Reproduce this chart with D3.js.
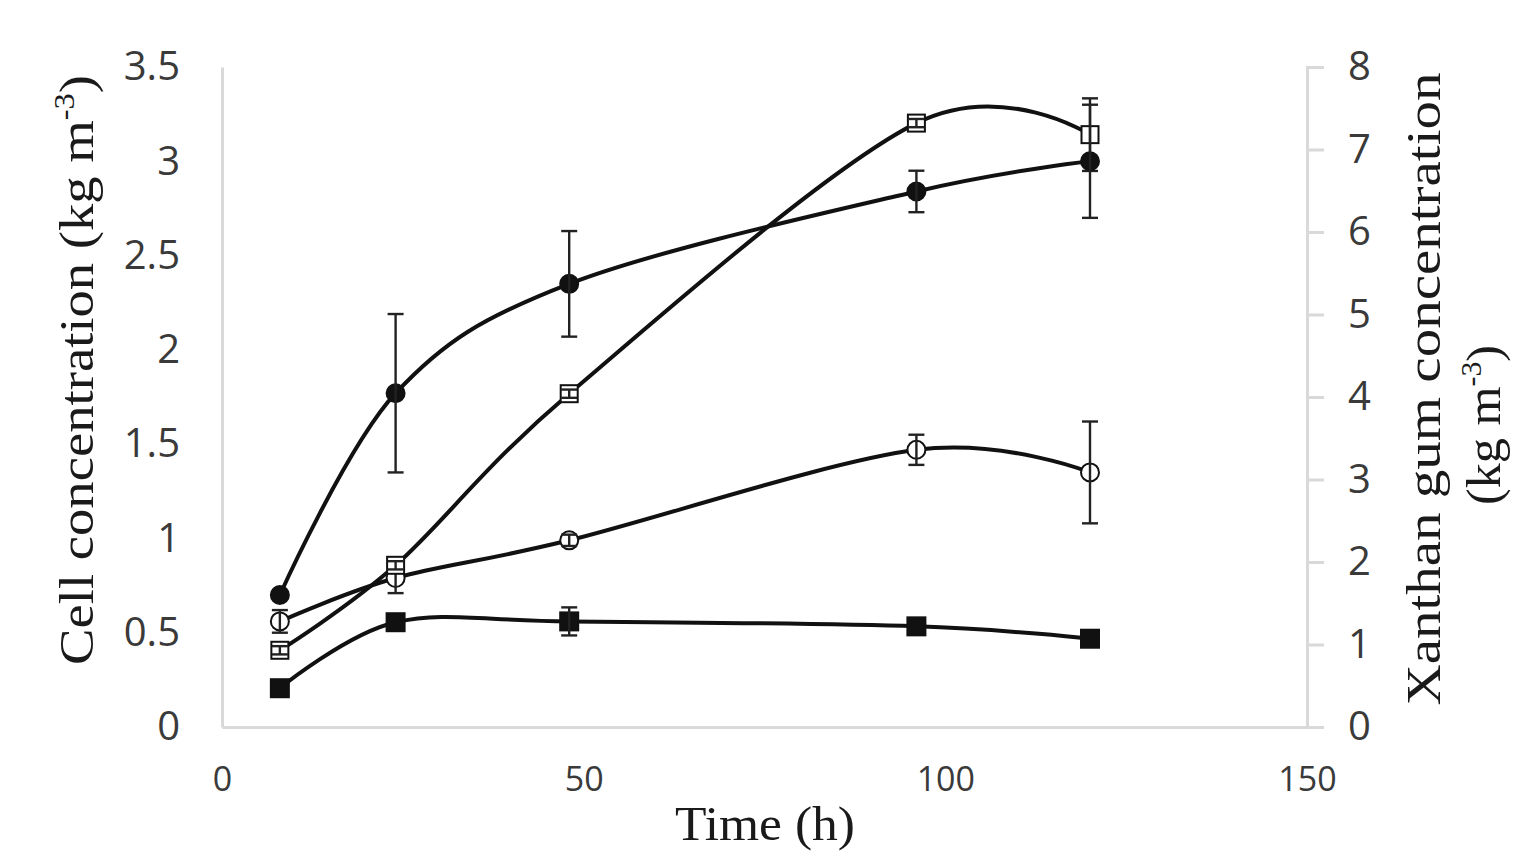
<!DOCTYPE html>
<html>
<head>
<meta charset="utf-8">
<script src="https://cdn.jsdelivr.net/npm/d3@7"></script>
<style>
  body { margin: 0; background: #fff; }
</style>
</head>
<body>
<div id="chart-area"></div>
<script>
// time points (h)
var times = [8, 24, 48, 96, 120];

// cell concentration (left axis)
var cellFilled = [0.70, 1.77, 2.35, 2.84, 3.00];
var cellFilledErr = [0, 0.42, 0.28, 0.11, 0.30];
var cellOpen = [0.56, 0.79, 0.99, 1.47, 1.35];
var cellOpenErr = [0.06, 0.08, 0.03, 0.08, 0.27];

// xanthan gum concentration (right axis)
var gumOpen = [0.93, 1.96, 4.04, 7.32, 7.18];
var gumOpenErr = [0.05, 0.05, 0.05, 0.05, 0.44];
var gumFilled = [0.47, 1.27, 1.28, 1.22, 1.07];
var gumFilledErr = [0, 0, 0.17, 0, 0];

var xTicks = [0, 50, 100, 150];
var yLeftTicks = [0, 0.5, 1, 1.5, 2, 2.5, 3, 3.5];
var yRightTicks = [0, 1, 2, 3, 4, 5, 6, 7, 8];

var width = 1533;
var height = 852;
var margin = { top: 67, right: 226, bottom: 125, left: 222 };
var chartWidth = width - margin.left - margin.right;
var chartHeight = height - margin.top - margin.bottom;

var svg = d3.select("#chart-area")
  .append("svg")
  .attr("width", width)
  .attr("height", height);

var g = svg.append("g")
  .attr("transform", "translate(" + margin.left + ", " + margin.top + ")");

var x = d3.scaleLinear().domain([0, 150]).range([0, chartWidth]);
var yLeft = d3.scaleLinear().domain([0, 3.5]).range([chartHeight, 0]);
var yRight = d3.scaleLinear().domain([0, 8]).range([chartHeight, 0]);

var axisColor = "#d9d9d9";
var tickText = "#3a3a3a";

// axes
var bottomAxis = d3.axisBottom(x).tickValues(xTicks).tickSize(0).tickPadding(40);
var gx = g.append("g")
  .attr("class", "x axis")
  .attr("transform", "translate(0, " + chartHeight + ")")
  .call(bottomAxis);
gx.select(".domain").attr("stroke", axisColor).attr("stroke-width", 3);
gx.selectAll("text")
  .attr("font-family", "Open Sans, sans-serif")
  .attr("font-size", "34px")
  .attr("fill", tickText);

var leftAxis = d3.axisLeft(yLeft).tickValues(yLeftTicks).tickSize(0).tickPadding(42)
  .tickFormat(d => String(d));
var gl = g.append("g")
  .attr("class", "y axis")
  .call(leftAxis);
gl.select(".domain").attr("stroke", axisColor).attr("stroke-width", 3);
gl.selectAll("text")
  .attr("font-family", "Open Sans, sans-serif")
  .attr("font-size", "40px")
  .attr("fill", tickText);

var rightAxis = d3.axisRight(yRight).tickValues(yRightTicks).tickSizeInner(17).tickSizeOuter(17).tickPadding(24);
var gr = g.append("g")
  .attr("class", "y axis right")
  .attr("transform", "translate(" + chartWidth + ", 0)")
  .call(rightAxis);
gr.select(".domain").attr("stroke", axisColor).attr("stroke-width", 3);
gr.selectAll("line").attr("stroke", axisColor).attr("stroke-width", 3);
gr.selectAll("text")
  .attr("font-family", "Open Sans, sans-serif")
  .attr("font-size", "40px")
  .attr("fill", tickText);

// series
var series = [
  { values: gumFilled, err: gumFilledErr, y: yRight, shape: "square", fill: "#111" },
  { values: cellOpen, err: cellOpenErr, y: yLeft, shape: "circle", fill: "#fff" },
  { values: gumOpen, err: gumOpenErr, y: yRight, shape: "square", fill: "#fff" },
  { values: cellFilled, err: cellFilledErr, y: yLeft, shape: "circle", fill: "#111" }
];

var line = d3.line().curve(d3.curveCardinal.tension(0));

series.forEach(function(s) {
  var pts = times.map(function(t, i) { return [x(t), s.y(s.values[i])]; });
  g.append("path")
    .attr("d", line(pts))
    .attr("fill", "none")
    .attr("stroke", "#111")
    .attr("stroke-width", 4);
});

series.forEach(function(s) {
  var data = times.map(function(t, i) { return { t: t, v: s.values[i], e: s.err[i] }; });
  var m = g.append("g");
  if (s.shape === "circle") {
    m.selectAll("circle").data(data).enter().append("circle")
      .attr("cx", d => x(d.t))
      .attr("cy", d => s.y(d.v))
      .attr("r", 9)
      .attr("fill", s.fill)
      .attr("stroke", "#111")
      .attr("stroke-width", 2);
  } else {
    var size = s.fill === "#fff" ? 17 : 18;
    m.selectAll("rect").data(data).enter().append("rect")
      .attr("x", d => x(d.t) - size / 2)
      .attr("y", d => s.y(d.v) - size / 2)
      .attr("width", size)
      .attr("height", size)
      .attr("fill", s.fill)
      .attr("stroke", "#111")
      .attr("stroke-width", 2);
  }
  var eb = g.append("g").attr("stroke", "#222").attr("stroke-width", 2.4);
  data.filter(d => d.e > 0).forEach(function(d) {
    var cx = x(d.t), top = s.y(d.v + d.e), bot = s.y(d.v - d.e);
    eb.append("line").attr("x1", cx).attr("x2", cx).attr("y1", top).attr("y2", bot);
    eb.append("line").attr("x1", cx - 8).attr("x2", cx + 8).attr("y1", top).attr("y2", top);
    eb.append("line").attr("x1", cx - 8).attr("x2", cx + 8).attr("y1", bot).attr("y2", bot);
  });
});

// axis titles
var serif = "Liberation Serif, Times New Roman, serif";

var lt = svg.append("text")
  .attr("transform", "translate(93, 370) rotate(-90)")
  .attr("text-anchor", "middle")
  .attr("font-family", serif)
  .attr("font-size", "49px")
  .attr("textLength", 590)
  .attr("lengthAdjust", "spacingAndGlyphs")
  .attr("fill", "#1a1a1a");
lt.append("tspan").text("Cell concentration (kg m");
lt.append("tspan").attr("font-size", "29px").attr("dy", -19).text("-3");
lt.append("tspan").attr("dy", 19).text(")");

svg.append("text")
  .attr("transform", "translate(1440, 389) rotate(-90)")
  .attr("text-anchor", "middle")
  .attr("font-family", serif)
  .attr("font-size", "49px")
  .attr("textLength", 633)
  .attr("lengthAdjust", "spacingAndGlyphs")
  .attr("fill", "#1a1a1a")
  .text("Xanthan gum concentration");

var rt2 = svg.append("text")
  .attr("transform", "translate(1500, 425) rotate(-90)")
  .attr("text-anchor", "middle")
  .attr("font-family", serif)
  .attr("font-size", "49px")
  .attr("textLength", 160)
  .attr("lengthAdjust", "spacingAndGlyphs")
  .attr("fill", "#1a1a1a");
rt2.append("tspan").text("(kg m");
rt2.append("tspan").attr("font-size", "29px").attr("dy", -19).text("-3");
rt2.append("tspan").attr("dy", 19).text(")");

svg.append("text")
  .attr("x", 765)
  .attr("y", 840)
  .attr("text-anchor", "middle")
  .attr("font-family", serif)
  .attr("font-size", "49px")
  .attr("textLength", 180)
  .attr("lengthAdjust", "spacingAndGlyphs")
  .attr("fill", "#1a1a1a")
  .text("Time (h)");
</script>
</body>
</html>
